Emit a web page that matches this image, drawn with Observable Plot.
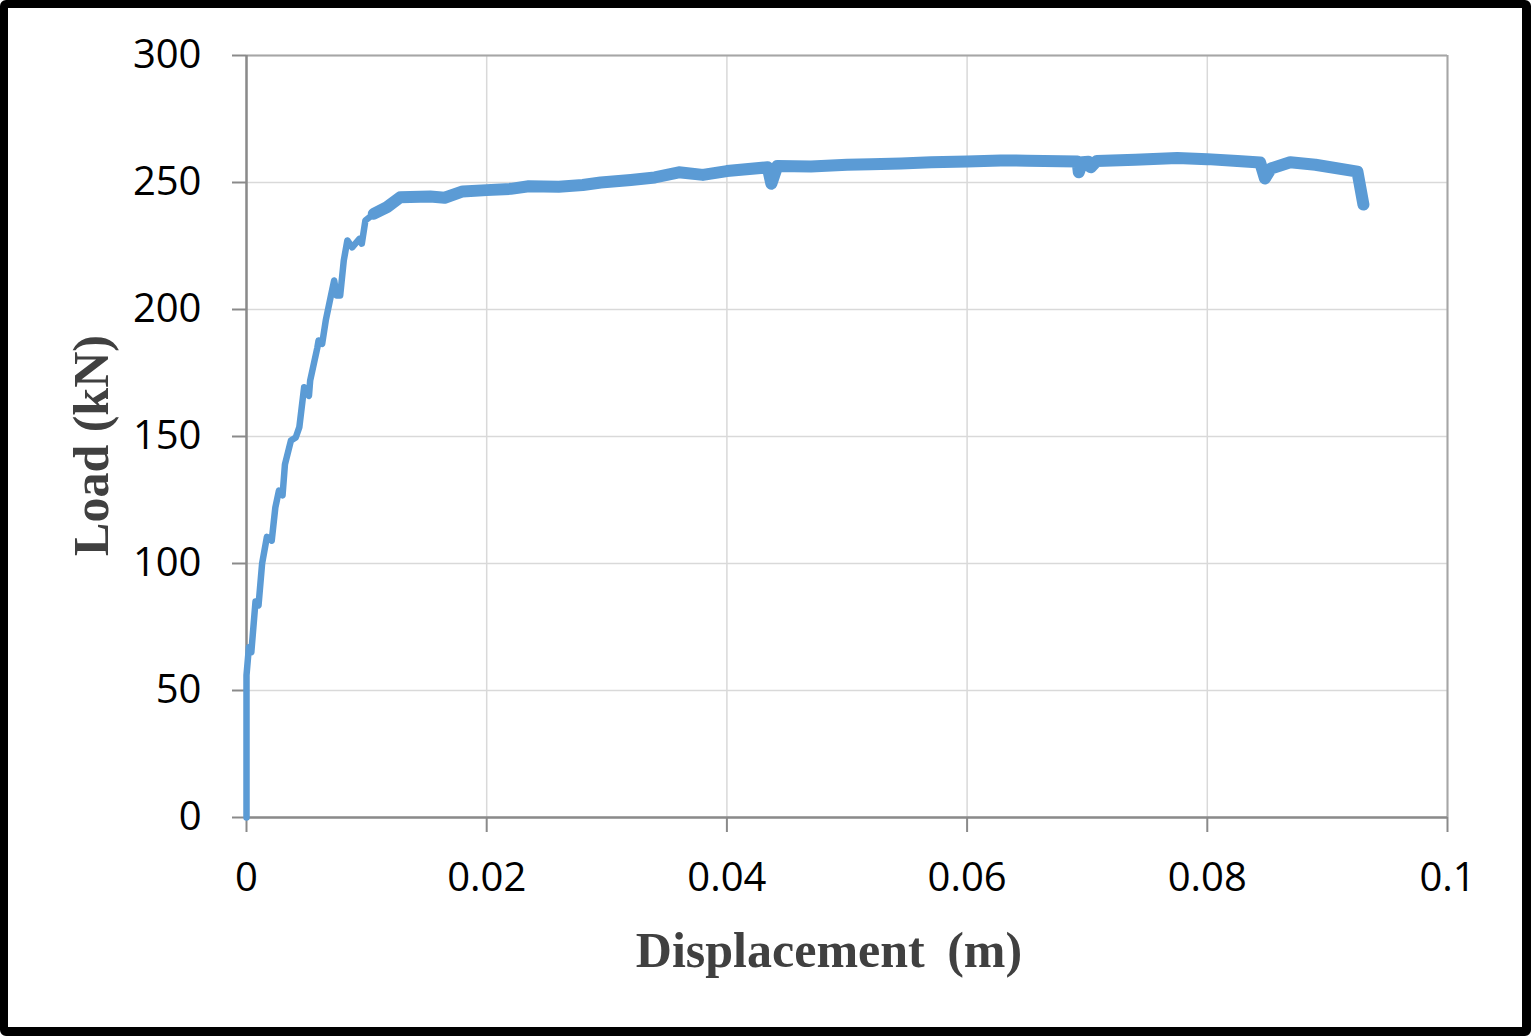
<!DOCTYPE html>
<html>
<head>
<meta charset="utf-8">
<script src="https://cdn.jsdelivr.net/npm/d3@7"></script>
<script src="https://cdn.jsdelivr.net/npm/@observablehq/plot@0.6"></script>
<style>
  html, body { margin: 0; padding: 0; background: #fff; }
  #wrap { position: relative; width: 1531px; height: 1036px; overflow: hidden; }
  #border { position: absolute; left: 0; top: 0; width: 1531px; height: 1036px; box-sizing: border-box;
            border-style: solid; border-color: #000; border-width: 8px 9px 9px 8px; border-radius: 6px; pointer-events: none; }
  g[aria-label="axis-title"] text { letter-spacing: -1.3px; }
</style>
</head>
<body>
<div id="wrap"><div id="chart"></div><div id="border"></div></div>
<script>
// Displacement (m) and load (kN)
const displacement = [
  0, 0, 0.0002, 0.0004, 0.00075, 0.001, 0.0013, 0.0017, 0.0021, 0.0024,
  0.0027, 0.003, 0.0032, 0.0037, 0.0041, 0.0044, 0.0048, 0.0052, 0.0053, 0.0059,
  0.006, 0.0063, 0.0066, 0.007, 0.0073, 0.0075, 0.0078, 0.0081, 0.0084, 0.0088,
  0.0094, 0.0096, 0.0099, 0.0106, 0.0117, 0.0128, 0.0153, 0.0165, 0.018, 0.02,
  0.022, 0.0235, 0.026, 0.028, 0.0295, 0.032, 0.034, 0.036, 0.038, 0.04,
  0.0434, 0.0437, 0.0442, 0.047, 0.05, 0.052, 0.0545, 0.057, 0.06, 0.0628,
  0.065, 0.0692, 0.0693, 0.0696, 0.0701, 0.0703, 0.0708, 0.074, 0.0775, 0.08,
  0.0825, 0.0844, 0.0848, 0.0853, 0.0869, 0.089, 0.0925, 0.093
];
const load = [
  0, 56, 67, 65, 85, 83.5, 100, 110.5, 109, 122,
  128.7, 126.8, 139, 148.4, 149.6, 153.7, 169.4, 166, 172, 185,
  187.8, 186.5, 195.7, 204.8, 211.4, 205.5, 205.5, 219.3, 227.2, 224.5,
  227.8, 225.9, 235, 237.7, 240.3, 244.2, 244.5, 244, 246.5, 247,
  247.5, 248.5, 248.3, 249, 250, 251, 252, 254, 253, 254.5,
  256, 249.5, 256.5, 256.3, 257, 257.2, 257.5, 258, 258.3, 258.7,
  258.6, 258.3, 254, 258, 258.2, 256, 258.5, 259, 259.6, 259.2,
  258.5, 257.9, 251.6, 255.5, 258, 257, 254.3, 241.3
];
const xTicks = [0, 0.02, 0.04, 0.06, 0.08, 0.1];
const xTickLabels = ["0", "0.02", "0.04", "0.06", "0.08", "0.1"];
const yTicks = [0, 50, 100, 150, 200, 250, 300];
const xTitle = "Displacement\u00a0\u2009(m)";
const yTitle = "Load (kN)";

const data = displacement.map((d, i) => ({x: d, y: load[i]}));
const plateau = data.filter(d => d.x >= 0.0105);

const titleFont = {fontFamily: "'Liberation Serif', 'Times New Roman', serif", fontSize: 50, fontWeight: "bold", fill: "#404040"};

const chart = Plot.plot({
  width: 1531,
  height: 1036,
  marginLeft: 246,
  marginRight: 84,
  marginTop: 55,
  marginBottom: 219,
  style: {fontFamily: "'Open Sans', sans-serif", fontSize: "40px", color: "#000", background: "transparent"},
  x: {domain: [0, 0.1]},
  y: {domain: [0, 300]},
  marks: [
    Plot.gridX(xTicks, {stroke: "#d9d9d9", strokeOpacity: 1, strokeWidth: 1.5}),
    Plot.gridY(yTicks, {stroke: "#d9d9d9", strokeOpacity: 1, strokeWidth: 1.5}),
    Plot.ruleX([0.1], {stroke: "#a6a6a6", strokeWidth: 2}),
    Plot.ruleY([300], {stroke: "#a6a6a6", strokeWidth: 2}),
    Plot.axisX(xTicks, {tickSize: 15, tickPadding: 30, stroke: "#8a8a8a", strokeWidth: 2,
      tickFormat: d => xTickLabels[xTicks.indexOf(d)], label: null, fill: "#000"}),
    Plot.axisY(yTicks, {tickSize: 14, tickPadding: 31, stroke: "#8a8a8a", strokeWidth: 2,
      tickFormat: d => String(d), label: null, fill: "#000"}),
    Plot.ruleX([0], {stroke: "#8a8a8a", strokeWidth: 2.5}),
    Plot.ruleY([0], {stroke: "#8a8a8a", strokeWidth: 2.5}),
    Plot.line(data, {x: "x", y: "y", stroke: "#5b9bd5", strokeWidth: 6.5, strokeLinejoin: "round", strokeLinecap: "round"}),
    Plot.line(plateau, {x: "x", y: "y", stroke: "#5b9bd5", strokeWidth: 12, strokeLinejoin: "round", strokeLinecap: "round"}),
    Plot.text([xTitle], {frameAnchor: "bottom", dx: -18, dy: 133, textAnchor: "middle", lineAnchor: "middle", ariaLabel: "axis-title", ...titleFont}),
    Plot.text([yTitle], {frameAnchor: "left", dx: -155, dy: 9, rotate: -90, textAnchor: "middle", lineAnchor: "middle", ariaLabel: "axis-title", ...titleFont})
  ]
});
document.getElementById("chart").appendChild(chart);
</script>
</body>
</html>
